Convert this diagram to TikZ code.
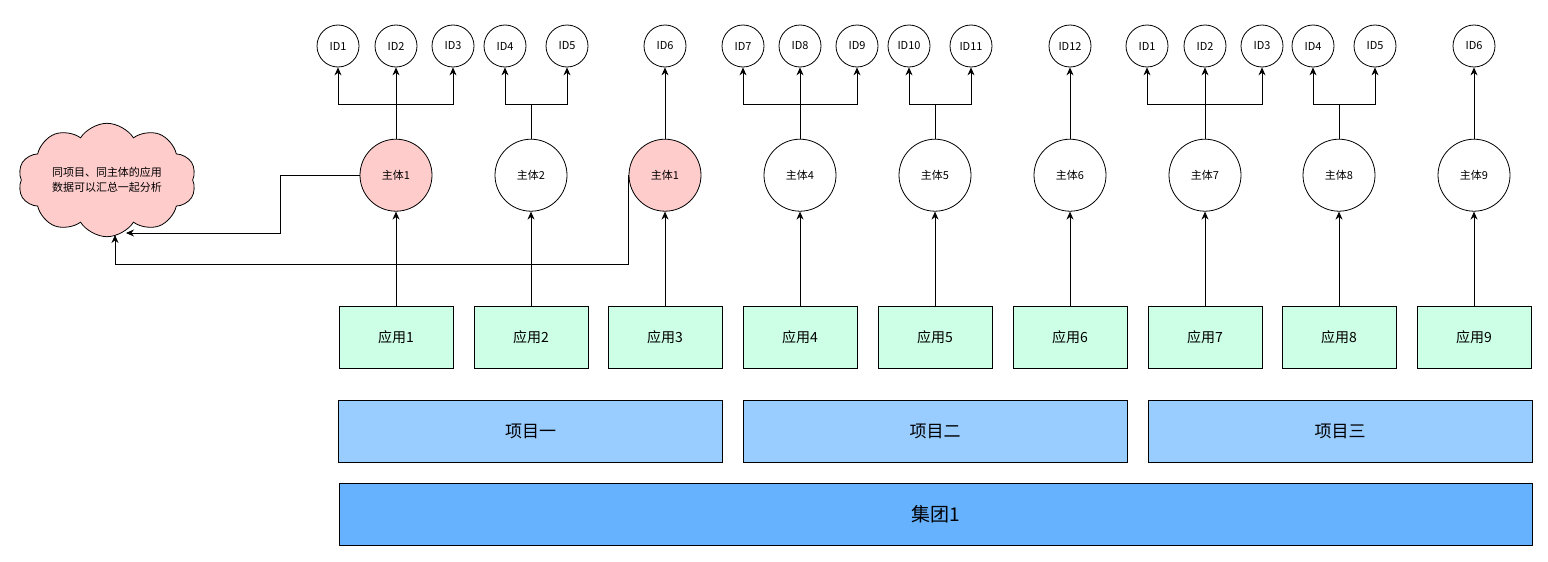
\documentclass[tikz,border=0pt]{standalone}
\usepackage{fontspec}
\setmainfont{Noto Sans CJK SC}
\usepackage{xcolor}
\usepackage{tikz}
\usetikzlibrary{positioning,arrows.meta,shapes.symbols}

\definecolor{subjpink}{HTML}{FFCCCC}
\definecolor{appgreen}{HTML}{CCFFE6}
\definecolor{projblue}{HTML}{99CCFF}
\definecolor{groupblue}{HTML}{66B2FF}

\begin{document}
\begin{tikzpicture}[x=1pt, y=-1pt, >={Stealth[length=8pt,width=7pt]}, line width=0.8pt,
  idnode/.style={draw, circle, minimum size=42pt, inner sep=0pt, font=\fontsize{11}{13}\selectfont},
  subj/.style={draw, circle, fill=white, minimum size=72pt, inner sep=0pt, font=\fontsize{11}{13}\selectfont},
  app/.style={draw, fill=appgreen, minimum width=114pt, minimum height=62pt, inner sep=0pt, font=\fontsize{14}{16}\selectfont},
  proj/.style={draw, fill=projblue, minimum width=384pt, minimum height=62pt, inner sep=0pt, font=\fontsize{17}{20}\selectfont}]
\useasboundingbox (0,0) rectangle (1548,562);

% apps
\node[app] (a1) at (396,337) {应用1};
\node[app] (a2) at (531,337) {应用2};
\node[app] (a3) at (665,337) {应用3};
\node[app] (a4) at (800,337) {应用4};
\node[app] (a5) at (935,337) {应用5};
\node[app] (a6) at (1070,337) {应用6};
\node[app] (a7) at (1205,337) {应用7};
\node[app] (a8) at (1339,337) {应用8};
\node[app] (a9) at (1474,337) {应用9};

% subjects
\node[subj, fill=subjpink, above=94pt of a1] (s1) {主体1};
\node[subj, above=94pt of a2] (s2) {主体2};
\node[subj, fill=subjpink, above=94pt of a3] (s3) {主体1};
\node[subj, above=94pt of a4] (s4) {主体4};
\node[subj, above=94pt of a5] (s5) {主体5};
\node[subj, above=94pt of a6] (s6) {主体6};
\node[subj, above=94pt of a7] (s7) {主体7};
\node[subj, above=94pt of a8] (s8) {主体8};
\node[subj, above=94pt of a9] (s9) {主体9};

% projects and group
\node[proj] (p1) at (530.5,431) {项目一};
\node[proj] (p2) at (935,431) {项目二};
\node[proj] (p3) at (1340,431) {项目三};
\node[draw, fill=groupblue, minimum width=1193pt, minimum height=62pt, inner sep=0pt,
  font=\fontsize{19}{22}\selectfont] (grp) at (935.5,514) {集团1};

% ids
\node[idnode] (i1) at (338,46) {ID1};
\node[idnode] (i2) at (396,46) {ID2};
\node[idnode] (i3) at (453,46) {ID3};
\node[idnode] (i4) at (505,46) {ID4};
\node[idnode] (i5) at (567,46) {ID5};
\node[idnode] (i6) at (665,46) {ID6};
\node[idnode] (i7) at (743,46) {ID7};
\node[idnode] (i8) at (800,46) {ID8};
\node[idnode] (i9) at (857,46) {ID9};
\node[idnode] (i10) at (909,46) {ID10};
\node[idnode] (i11) at (971,46) {ID11};
\node[idnode] (i12) at (1070,46) {ID12};
\node[idnode] (k1) at (1147,46) {ID1};
\node[idnode] (k2) at (1205,46) {ID2};
\node[idnode] (k3) at (1262,46) {ID3};
\node[idnode] (k4) at (1313,46) {ID4};
\node[idnode] (k5) at (1375,46) {ID5};
\node[idnode] (k6) at (1474,46) {ID6};

% cloud
\node[draw, cloud, cloud puffs=10, cloud puff arc=115, aspect=1.7, fill=subjpink,
  minimum width=178pt, minimum height=104pt, inner sep=0pt, align=center,
  font=\fontsize{11}{15}\selectfont] (note) at (107,180) {同项目、同主体的应用\\数据可以汇总一起分析};
\coordinate (n1) at (126,233);
\coordinate (n2) at (115,235);

% app -> subject
\draw[->] (a1) -- (s1);
\draw[->] (a2) -- (s2);
\draw[->] (a3) -- (s3);
\draw[->] (a4) -- (s4);
\draw[->] (a5) -- (s5);
\draw[->] (a6) -- (s6);
\draw[->] (a7) -- (s7);
\draw[->] (a8) -- (s8);
\draw[->] (a9) -- (s9);

% subject -> ids
\coordinate (j1) at (396,104);
\coordinate (j2) at (531,104);
\coordinate (j4) at (800,104);
\coordinate (j5) at (935,104);
\coordinate (j7) at (1205,104);
\coordinate (j8) at (1339,104);
\draw (s1) -- (j1);
\draw[->] (j1) -- (i2);
\draw[->] (j1) -| (i1);
\draw[->] (j1) -| (i3);
\draw (s2) -- (j2);
\draw[->] (j2) -| (i4);
\draw[->] (j2) -| (i5);
\draw[->] (s3) -- (i6);
\draw (s4) -- (j4);
\draw[->] (j4) -- (i8);
\draw[->] (j4) -| (i7);
\draw[->] (j4) -| (i9);
\draw (s5) -- (j5);
\draw[->] (j5) -| (i10);
\draw[->] (j5) -| (i11);
\draw[->] (s6) -- (i12);
\draw (s7) -- (j7);
\draw[->] (j7) -- (k2);
\draw[->] (j7) -| (k1);
\draw[->] (j7) -| (k3);
\draw (s8) -- (j8);
\draw[->] (j8) -| (k4);
\draw[->] (j8) -| (k5);
\draw[->] (s9) -- (k6);

% same subject -> note
\draw[->] (s1.west) -- ++(-79,0) |- (n1);
\draw[->] (s3.west) -- ++(0,89) -| (n2);

\end{tikzpicture}
\end{document}
